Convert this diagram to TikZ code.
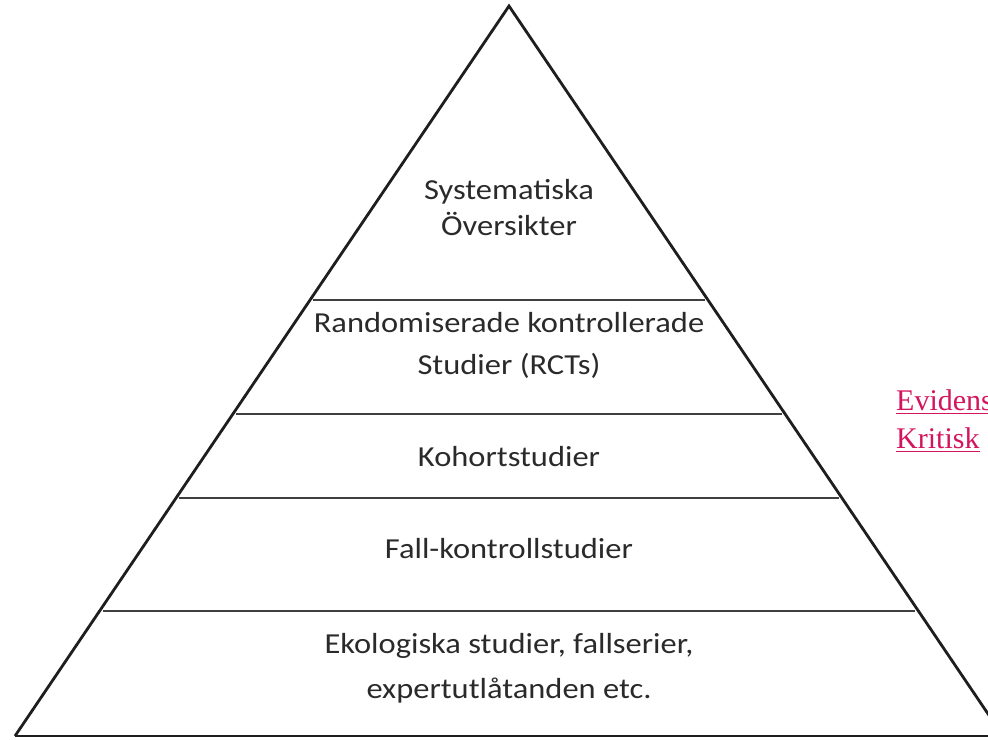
\documentclass[tikz,border=0pt]{standalone}
\usepackage{fontspec}
\setmainfont{Carlito}[FakeStretch=1.12]
\newfontfamily\linkfont{Liberation Serif}
\usetikzlibrary{calc}
\definecolor{inkline}{HTML}{1E1E1E}
\definecolor{inktext}{HTML}{2A2A2A}
\definecolor{linkred}{HTML}{D3155E}
\begin{document}
\begin{tikzpicture}[x=1pt,y=-1pt,
  edge/.style={draw=inkline,line width=2.8pt,line join=miter},
  divider/.style={draw=inkline!85,line width=2.8pt},
  tiertext/.style={anchor=base,inner sep=0pt,font=\fontsize{29}{34}\selectfont,text=inktext},
  linktext/.style={anchor=base west,inner sep=0pt,font=\linkfont\fontsize{30}{36}\selectfont,text=linkred},
  linkrule/.style={draw=linkred,line width=1.6pt}]
  \useasboundingbox (0,0) rectangle (988,739);
  \clip (0,0) rectangle (988,739);
  % pyramid corners
  \coordinate (apex) at (509,6);
  \coordinate (bl) at (15,736);
  \coordinate (br) at (1003,736);
  \draw[edge] (bl) -- (apex) -- (br);
  \draw[edge] (bl) -- (br);
  % tier dividers
  \foreach \yy/\nm in {300/d1,414/d2,498/d3,611/d4}{
    \coordinate (\nm l) at ($(apex)!{(\yy-6)/730}!(bl)+(3,0)$);
    \coordinate (\nm r) at ($(apex)!{(\yy-6)/730}!(br)+(-3,0)$);
    \draw[divider] (\nm l) -- (\nm r);
  }
  % tier labels
  \node[tiertext] (t1a) at (509,199) {Systematiska};
  \node[tiertext] (t1b) at (509,235) {Översikter};
  \node[tiertext] (t2a) at (509,332) {Randomiserade kontrollerade};
  \node[tiertext] (t2b) at (509,374) {Studier (RCTs)};
  \node[tiertext] (t3) at (509,466) {Kohortstudier};
  \node[tiertext] (t4) at (509,558) {Fall-kontrollstudier};
  \node[tiertext] (t5a) at (509,653) {Ekologiska studier, fallserier,};
  \node[tiertext] (t5b) at (509,698) {expertutlåtanden etc.};
  % underlined link text at the right edge
  \node[linktext] (l1) at (896,410) {Evidens};
  \node[linktext] (l2) at (896,448) {Kritisk};
  \draw[linkrule] ($(l1.base west)+(0,3.5)$) -- ($(l1.base east)+(0,3.5)$);
  \draw[linkrule] ($(l2.base west)+(0,3.5)$) -- ($(l2.base east)+(0,3.5)$);
\end{tikzpicture}
\end{document}
